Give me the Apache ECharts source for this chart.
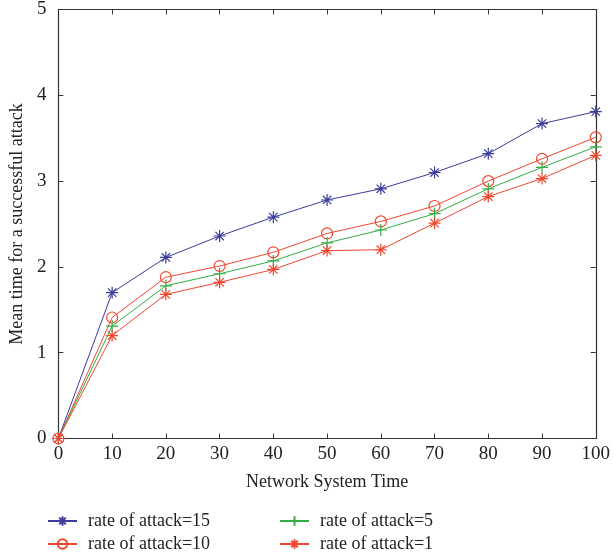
<!DOCTYPE html>
<html>
<head>
<meta charset="utf-8">
<script src="https://cdn.jsdelivr.net/npm/echarts@6/dist/echarts.min.js"></script>
<style>html,body{margin:0;padding:0;background:#fff}#c{width:613px;height:556px}</style>
</head>
<body>
<div id="c"></div>
<script>
var xValues = [0, 10, 20, 30, 40, 50, 60, 70, 80, 90, 100];
var seriesNames = ['rate of attack=15', 'rate of attack=10', 'rate of attack=5', 'rate of attack=1'];
var rate15 = [0, 1.70, 2.11, 2.36, 2.58, 2.78, 2.91, 3.10, 3.32, 3.67, 3.81];
var rate10 = [0, 1.41, 1.88, 2.01, 2.17, 2.39, 2.53, 2.71, 3.00, 3.26, 3.51];
var rate5  = [0, 1.31, 1.78, 1.92, 2.07, 2.28, 2.43, 2.62, 2.91, 3.16, 3.40];
var rate1  = [0, 1.20, 1.68, 1.82, 1.97, 2.19, 2.20, 2.51, 2.82, 3.03, 3.30];
var xTicks = [0, 10, 20, 30, 40, 50, 60, 70, 80, 90, 100];
var yTicks = [0, 1, 2, 3, 4, 5];

var FONT = 'Liberation Serif';
var BLUE = '#3c3c9c', RED = '#f0482f', GREEN = '#35ad47', RED2 = '#f0482f';
var STAR = 'path://M5,0 L5,10 M0,5 L10,5 M1.5,1.5 L8.5,8.5 M1.5,8.5 L8.5,1.5';
var PLUS = 'path://M5,0 L5,10 M0,5 L10,5';

function pairs(arr){ return arr.map(function(v,i){ return [xValues[i], v]; }); }

function mk(name, data, color, symbol, size){
  return {
    name: name, type: 'line', data: pairs(data),
    symbol: symbol, symbolSize: size, showAllSymbol: true,
    lineStyle: {color: color, width: 1},
    itemStyle: {color: 'none', borderColor: color, borderWidth: 1.2},
    emphasis: {disabled: true}, animation: false, z: 3
  };
}

var axisLine = {show: true, onZero: false, lineStyle: {color: '#333', width: 1.2}};
var axisTick = {show: true, inside: true, length: 5, lineStyle: {color: '#333', width: 1}};
var lblStyle = {fontFamily: FONT, fontSize: 19, color: '#222'};

function legend(name, left, top){
  return {
    data: [name], left: left, top: top, padding: 0, itemWidth: 29, itemHeight: 12, itemGap: 11,
    textStyle: {fontFamily: FONT, fontSize: 18, color: '#222', padding: [0, 0, 0, 6]}, selectedMode: false
  };
}

var chart = echarts.init(document.getElementById('c'), null, {renderer: 'canvas'});
chart.setOption({
  backgroundColor: '#fff',
  animation: false,
  grid: {left: 54.5, right: 15.5, top: 9.5, bottom: 117.5},
  legend: [
    legend(seriesNames[0], 47, 512),
    legend(seriesNames[1], 47, 535),
    legend(seriesNames[2], 279, 512),
    legend(seriesNames[3], 279, 535)
  ],
  xAxis: [{
    type: 'value', min: 0, max: 100, interval: 10, position: 'bottom',
    axisLine: axisLine, axisTick: axisTick, splitLine: {show: false},
    axisLabel: Object.assign({margin: 6, formatter: function(v){ return xTicks.indexOf(v) >= 0 ? String(v) : ''; }}, lblStyle),
    name: 'Network System Time', nameLocation: 'middle', nameGap: 35,
    nameTextStyle: {fontFamily: FONT, fontSize: 18, color: '#222'}
  }, {
    type: 'value', min: 0, max: 100, interval: 10, position: 'top',
    axisLine: axisLine, axisTick: axisTick, splitLine: {show: false}, axisLabel: {show: false}
  }],
  yAxis: [{
    type: 'value', min: 0, max: 5, interval: 1, position: 'left',
    axisLine: axisLine, axisTick: axisTick, splitLine: {show: false},
    axisLabel: Object.assign({margin: 12, formatter: function(v){ return yTicks.indexOf(v) >= 0 ? String(v) : ''; }}, lblStyle),
    name: 'Mean time for a successful attack', nameLocation: 'middle', nameGap: 32,
    nameTextStyle: {fontFamily: FONT, fontSize: 18, color: '#222'}
  }, {
    type: 'value', min: 0, max: 5, interval: 1, position: 'right',
    axisLine: axisLine, axisTick: axisTick, splitLine: {show: false}, axisLabel: {show: false}
  }],
  series: [
    mk(seriesNames[0], rate15, BLUE, STAR, 12),
    mk(seriesNames[1], rate10, RED, 'circle', 11),
    mk(seriesNames[2], rate5, GREEN, PLUS, 12),
    mk(seriesNames[3], rate1, RED2, STAR, 12)
  ]
});
</script>
</body>
</html>
